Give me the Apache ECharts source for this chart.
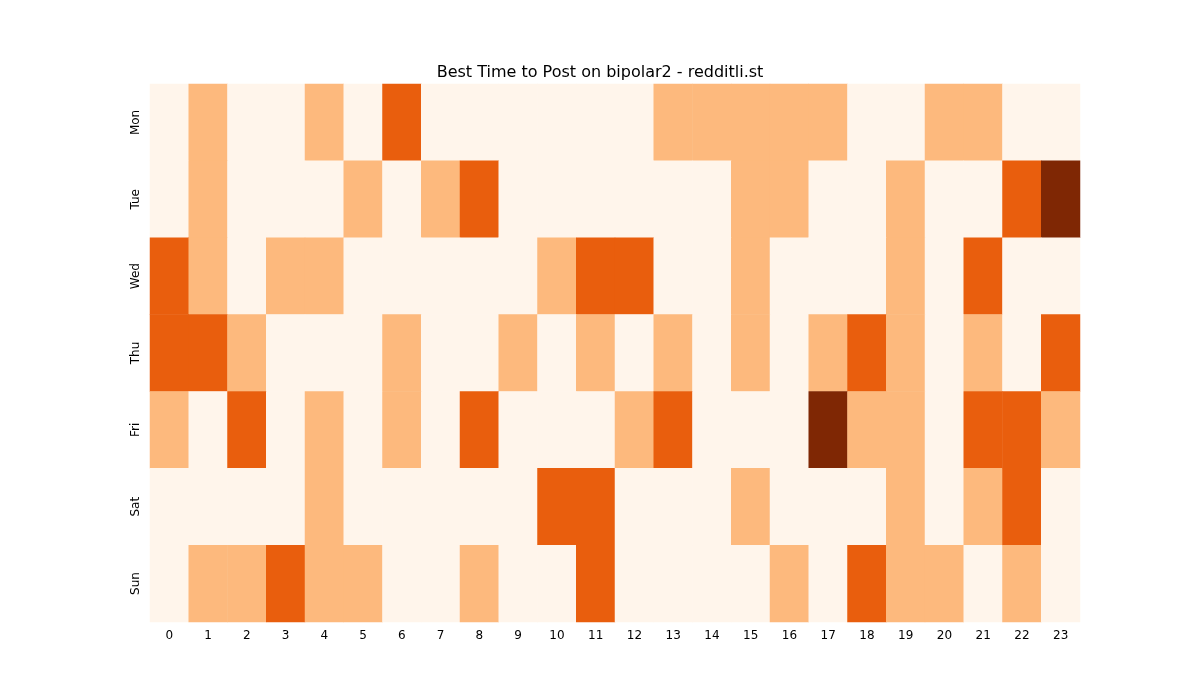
<!DOCTYPE html>
<html>
<head>
<meta charset="utf-8">
<script src="https://cdn.jsdelivr.net/npm/echarts@6/dist/echarts.min.js"></script>
<style>body{margin:0;background:#fff}#chart{width:1200px;height:700px}</style>
</head>
<body>
<div id="chart"></div>
<script>
var hours = [];
for (var h = 0; h < 24; h++) hours.push(String(h));
var days = ['Mon', 'Tue', 'Wed', 'Thu', 'Fri', 'Sat', 'Sun'];
// activity level per day, hour 0..23
var mon = [0,1,0,0,1,0,2,0,0,0,0,0,0,1,1,1,1,1,0,0,1,1,0,0];
var tue = [0,1,0,0,0,1,0,1,2,0,0,0,0,0,0,1,1,0,0,1,0,0,2,3];
var wed = [2,1,0,1,1,0,0,0,0,0,1,2,2,0,0,1,0,0,0,1,0,2,0,0];
var thu = [2,2,1,0,0,0,1,0,0,1,0,1,0,1,0,1,0,1,2,1,0,1,0,2];
var fri = [1,0,2,0,1,0,1,0,2,0,0,0,1,2,0,0,0,3,1,1,0,2,2,1];
var sat = [0,0,0,0,1,0,0,0,0,0,2,2,0,0,0,1,0,0,0,1,0,1,2,0];
var sun = [0,1,1,2,1,1,0,0,1,0,0,2,0,0,0,0,1,0,2,1,1,0,1,0];
var rows = [mon, tue, wed, thu, fri, sat, sun];

var data = [];
rows.forEach(function(r, d) {
    r.forEach(function(v, h) { data.push([h, d, v]); });
});

var chart = echarts.init(document.getElementById('chart'));
chart.setOption({
    animation: false,
    title: {
        text: 'Best Time to Post on bipolar2 - redditli.st',
        left: 'center', top: 60,
        textStyle: { fontFamily: 'DejaVu Sans', fontSize: 16, fontWeight: 'normal', color: '#000' }
    },
    grid: { left: 150, right: 120, top: 84, bottom: 78 },
    xAxis: {
        type: 'category', data: hours,
        axisLine: { show: false },
        axisTick: { alignWithLabel: true, length: 5, lineStyle: { color: '#000' } },
        axisLabel: { color: '#000', fontFamily: 'DejaVu Sans', fontSize: 12 },
        splitLine: { show: false }
    },
    yAxis: {
        type: 'category', data: days, inverse: true,
        axisLine: { show: false },
        axisTick: { alignWithLabel: true, length: 5, lineStyle: { color: '#000' } },
        axisLabel: { color: '#000', fontFamily: 'DejaVu Sans', fontSize: 12, rotate: 90 },
        splitLine: { show: false }
    },
    visualMap: {
        show: false, type: 'piecewise', dimension: 2,
        pieces: [
            { value: 0, color: '#fff5eb' },
            { value: 1, color: '#fdb97d' },
            { value: 2, color: '#e95e0d' },
            { value: 3, color: '#7f2704' }
        ]
    },
    series: [{
        type: 'heatmap', data: data,
        itemStyle: { borderWidth: 0 },
        emphasis: { disabled: true }
    }],
    graphic: [{
        type: 'text', left: 'center', top: 337,
        style: { text: 'redditli.st', fontSize: 27, fontFamily: 'DejaVu Sans', fill: 'rgba(128,128,128,0.5)' }
    }]
});
</script>
</body>
</html>
